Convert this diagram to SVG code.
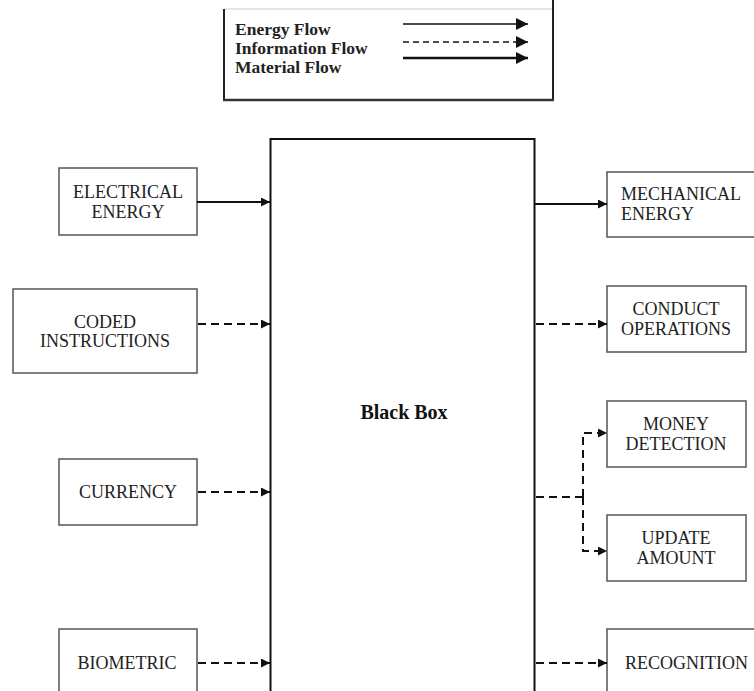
<svg xmlns="http://www.w3.org/2000/svg" width="754" height="691" viewBox="0 0 754 691">
<defs>
<style>
.box{fill:#fff;stroke:#555;stroke-width:1.5}
.lbl{font-family:"Liberation Serif","Times New Roman",serif;font-size:18px;fill:#222;text-anchor:middle}
.lg{font-family:"Liberation Serif","Times New Roman",serif;font-size:17.5px;font-weight:bold;fill:#222}
.solid{stroke:#111;stroke-width:2;fill:none}
.dash{stroke:#111;stroke-width:2;fill:none;stroke-dasharray:8,5}
</style>
<marker id="ah" viewBox="0 0 10 10" refX="10" refY="5" markerWidth="9" markerHeight="9" markerUnits="userSpaceOnUse" orient="auto">
<path d="M0,0 L10,5 L0,10 z" fill="#111"/>
</marker>
<marker id="ahL" viewBox="0 0 10 10" refX="10" refY="5" markerWidth="12" markerHeight="12" markerUnits="userSpaceOnUse" orient="auto">
<path d="M0,0 L10,5 L0,10 z" fill="#111"/>
</marker>
</defs>
<rect width="754" height="691" fill="#fff"/>

<g id="legend">
<line x1="224" y1="9" x2="553" y2="9" stroke="#ccc" stroke-width="1"/>
<line x1="224" y1="9" x2="224" y2="101" stroke="#222" stroke-width="2"/>
<line x1="553" y1="0" x2="553" y2="101" stroke="#222" stroke-width="2"/>
<line x1="223" y1="100" x2="554" y2="100" stroke="#333" stroke-width="2.5"/>
<text class="lg" x="235" y="35">Energy Flow</text>
<text class="lg" x="235" y="54">Information Flow</text>
<text class="lg" x="235" y="73">Material Flow</text>
<line x1="403" y1="24" x2="528" y2="24" stroke="#111" stroke-width="1.5" marker-end="url(#ahL)"/>
<line x1="403" y1="42" x2="528" y2="42" stroke="#111" stroke-width="1.5" stroke-dasharray="6,4" marker-end="url(#ahL)"/>
<line x1="403" y1="58" x2="528" y2="58" stroke="#111" stroke-width="2.5" marker-end="url(#ahL)"/>
</g>

<g id="blackbox">
<rect x="270.5" y="139" width="264" height="560" fill="#fff" stroke="#111" stroke-width="2"/>
<text x="404" y="419" font-family="'Liberation Serif','Times New Roman',serif" font-size="20" font-weight="bold" fill="#111" text-anchor="middle">Black Box</text>
</g>

<g id="electrical-energy">
<rect class="box" x="59" y="168" width="138" height="67"/>
<text class="lbl" x="128" y="198">ELECTRICAL</text>
<text class="lbl" x="128" y="218">ENERGY</text>
</g>
<g id="coded-instructions">
<rect class="box" x="13" y="289" width="184" height="84"/>
<text class="lbl" x="105" y="328">CODED</text>
<text class="lbl" x="105" y="347">INSTRUCTIONS</text>
</g>
<g id="currency">
<rect class="box" x="59" y="459" width="138" height="66"/>
<text class="lbl" x="128" y="498">CURRENCY</text>
</g>
<g id="biometric">
<rect class="box" x="59" y="629" width="138" height="80"/>
<text class="lbl" x="127" y="669">BIOMETRIC</text>
</g>

<g id="mechanical-energy">
<rect class="box" x="607" y="172" width="160" height="65"/>
<text class="lbl" x="621" y="200" style="text-anchor:start">MECHANICAL</text>
<text class="lbl" x="621" y="220" style="text-anchor:start">ENERGY</text>
</g>
<g id="conduct-operations">
<rect class="box" x="607" y="286" width="139" height="66"/>
<text class="lbl" x="676" y="315">CONDUCT</text>
<text class="lbl" x="676" y="335">OPERATIONS</text>
</g>
<g id="money-detection">
<rect class="box" x="607" y="401" width="139" height="66"/>
<text class="lbl" x="676" y="430">MONEY</text>
<text class="lbl" x="676" y="450">DETECTION</text>
</g>
<g id="update-amount">
<rect class="box" x="607" y="515" width="139" height="66"/>
<text class="lbl" x="676" y="544">UPDATE</text>
<text class="lbl" x="676" y="564">AMOUNT</text>
</g>
<g id="recognition">
<rect class="box" x="607" y="629" width="160" height="80"/>
<text class="lbl" x="625" y="669" style="text-anchor:start">RECOGNITION</text>
</g>

<g id="connectors">
<line class="solid" x1="197" y1="202" x2="270" y2="202" marker-end="url(#ah)"/>
<line class="dash" x1="198" y1="324" x2="270" y2="324" marker-end="url(#ah)"/>
<line class="dash" x1="198" y1="492" x2="270" y2="492" marker-end="url(#ah)"/>
<line class="dash" x1="198" y1="663" x2="270" y2="663" marker-end="url(#ah)"/>
<line class="solid" x1="535" y1="204" x2="607" y2="204" marker-end="url(#ah)"/>
<line class="dash" x1="536" y1="324" x2="607" y2="324" marker-end="url(#ah)"/>
<line class="dash" x1="536" y1="497" x2="583" y2="497"/>
<path class="dash" d="M583,497 L583,433 L607,433" marker-end="url(#ah)"/>
<path class="dash" d="M583,497 L583,551 L607,551" marker-end="url(#ah)"/>
<line class="dash" x1="536" y1="663" x2="607" y2="663" marker-end="url(#ah)"/>
</g>
</svg>
